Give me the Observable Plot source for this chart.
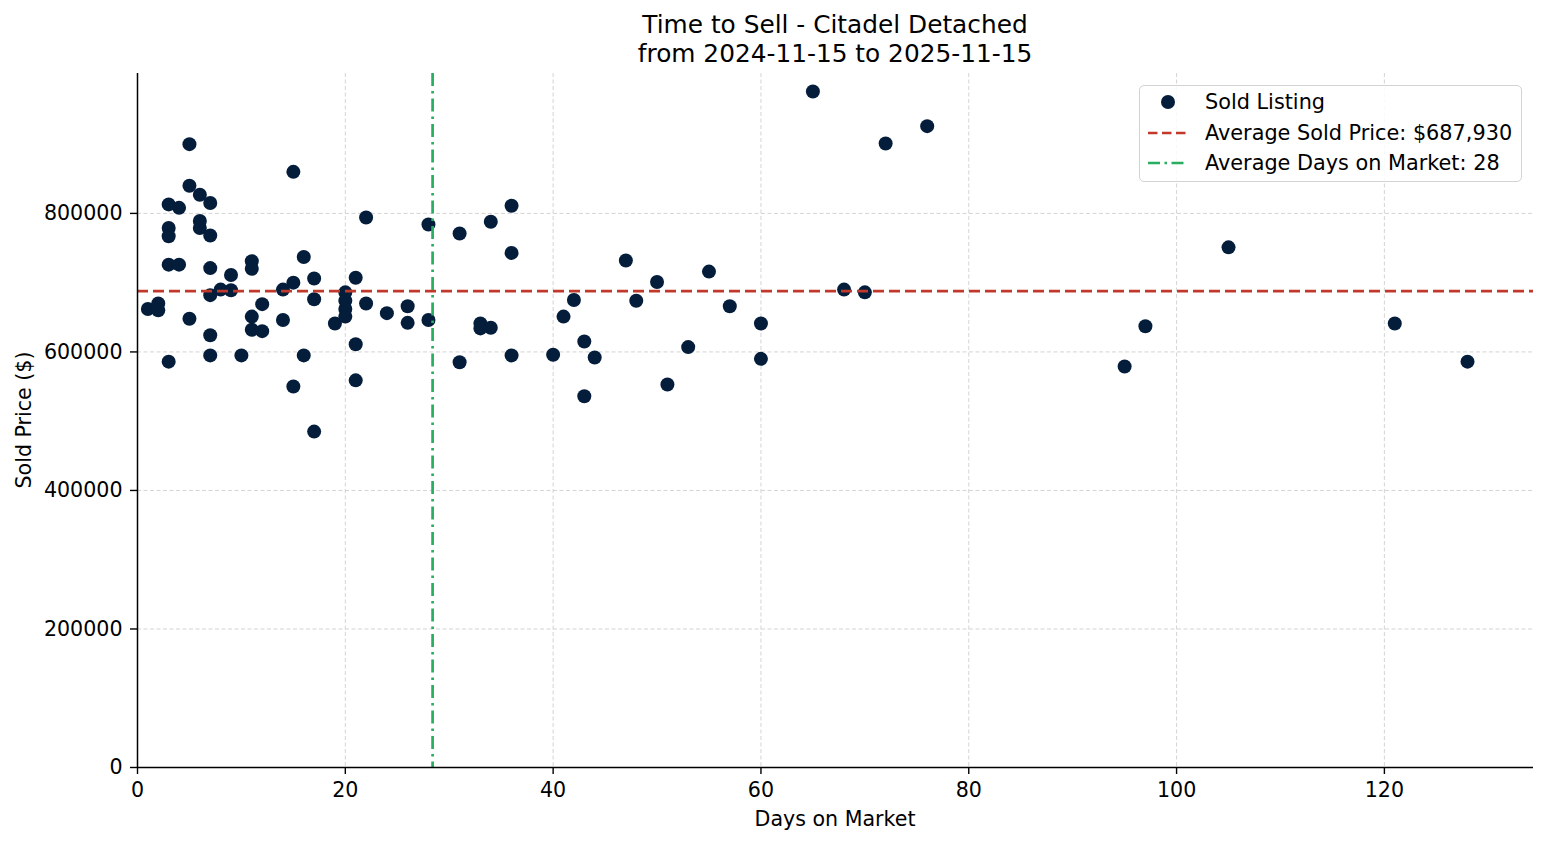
<!DOCTYPE html>
<html><head><meta charset="utf-8">
<script src="https://cdn.jsdelivr.net/npm/d3@7"></script>
<script src="https://cdn.jsdelivr.net/npm/@observablehq/plot@0.6"></script>
<style>
body{margin:0;background:#fff;font-family:"DejaVu Sans",sans-serif;color:#000;}
#wrap{position:relative;width:1547px;height:845px;overflow:hidden;}
#wrap svg{position:absolute;left:0;top:0;}
.title{position:absolute;left:137px;width:1396px;text-align:center;font-size:24.8px;line-height:29px;white-space:nowrap;}
.xlabel{position:absolute;left:137px;width:1396px;top:805px;text-align:center;font-size:20.6px;line-height:28px;}
.ylabel{position:absolute;left:24px;top:420px;font-size:20.6px;line-height:28px;white-space:nowrap;transform:translate(-50%,-50%) rotate(-90deg);}
#legend{position:absolute;left:1139px;top:85px;width:383px;height:97px;border:1.5px solid #d3d3d3;border-radius:5px;background:rgba(255,255,255,0.85);box-sizing:border-box;}
.lrow{position:absolute;left:0;height:30px;width:100%;}
.lrow svg{position:absolute;left:6px;top:0;}
.lrow span{position:absolute;left:65px;top:0;line-height:30px;font-size:20.8px;white-space:nowrap;}
</style></head><body>
<div id="wrap"></div>
<script>
// ---- data ----
const days = [1, 2, 2, 3, 3, 3, 3, 3, 4, 4, 5, 5, 5, 6, 6, 6, 7, 7, 7, 7, 7, 7, 8, 9, 9, 10,
  11, 11, 11, 11, 12, 12, 14, 14, 15, 15, 15, 16, 16, 17, 17, 17, 19, 20, 20, 20, 20,
  21, 21, 21, 22, 22, 24, 26, 26, 28, 28, 31, 31, 33, 33, 34, 34, 36, 36, 36,
  40, 41, 42, 43, 43, 44, 47, 48, 50, 51, 53, 55, 57, 60, 60,
  65, 68, 70, 72, 76, 95, 97, 105, 121, 128];
const prices = [662000, 670000, 660000, 813000, 779000, 767000, 726000, 586000, 808000, 726000,
  900000, 840000, 648000, 827000, 789000, 779000, 815000, 768000, 721000, 682000, 624000, 595000,
  690000, 711000, 689000, 595000,
  731000, 720000, 651000, 632000, 669000, 630000, 690000, 646000, 860000, 700000, 550000,
  737000, 595000, 706000, 676000, 485000, 641000, 686000, 674000, 662000, 651000,
  707000, 611000, 559000, 794000, 670000, 656000, 666000, 642000, 784000, 646000,
  771000, 585000, 641000, 634000, 788000, 635000, 811000, 743000, 595000,
  596000, 651000, 675000, 615000, 536000, 592000, 732000, 674000, 701000, 553000,
  607000, 716000, 666000, 641000, 590000,
  976000, 690000, 686000, 901000, 926000, 579000, 637000, 751000, 641000, 586000];
const avgPrice = 687930;
const avgDays = 28.4;
const xTicks = [0, 20, 40, 60, 80, 100, 120];
const yTicks = [0, 200000, 400000, 600000, 800000];
const xDomain = [0, 134.35];
const yDomain = [0, 1002000];
const titleLines = ["Time to Sell - Citadel Detached", "from 2024-11-15 to 2025-11-15"];
const xLabel = "Days on Market";
const yLabel = "Sold Price ($)";

const data = days.map((d, i) => ({days: d, price: prices[i]}));
const navy = "#031d3b", red = "#c0392b", green = "#27ae60";

const chart = Plot.plot({
  width: 1547, height: 845,
  marginTop: 73, marginLeft: 137, marginRight: 14, marginBottom: 78,
  style: {fontFamily: "DejaVu Sans", fontSize: "20.6px", color: "#000", background: "transparent", overflow: "visible"},
  x: {domain: xDomain},
  y: {domain: yDomain},
  marks: [
    Plot.gridX(xTicks, {stroke: "#cfcfcf", strokeOpacity: 1, strokeWidth: 0.9, strokeDasharray: "4,2.5"}),
    Plot.gridY(yTicks, {stroke: "#cfcfcf", strokeOpacity: 1, strokeWidth: 0.9, strokeDasharray: "4,2.5"}),
    Plot.axisX(xTicks, {tickSize: 7, tickPadding: 8, label: null, stroke: "#000", strokeWidth: 1.4, tickFormat: d3.format("d")}),
    Plot.axisY(yTicks, {tickSize: 7, tickPadding: 8, label: null, stroke: "#000", strokeWidth: 1.4, tickFormat: d3.format("d")}),
    Plot.dot(data, {x: "days", y: "price", r: 7, fill: navy, stroke: null}),
    Plot.ruleY([avgPrice], {stroke: red, strokeWidth: 2.7, strokeDasharray: "11,5"}),
    Plot.ruleX([avgDays], {stroke: green, strokeWidth: 2.7, strokeDasharray: "13,5,2.5,5"}),
    Plot.ruleX([0], {stroke: "#000", strokeWidth: 1.5}),
    Plot.ruleY([0], {stroke: "#000", strokeWidth: 1.5})
  ]
});

const wrap = document.getElementById("wrap");
wrap.appendChild(chart);

titleLines.forEach((t, i) => {
  const d = document.createElement("div");
  d.className = "title";
  d.style.top = (10 + i * 29) + "px";
  d.textContent = t;
  wrap.appendChild(d);
});
const xl = document.createElement("div"); xl.className = "xlabel"; xl.textContent = xLabel; wrap.appendChild(xl);
const yl = document.createElement("div"); yl.className = "ylabel"; yl.textContent = yLabel; wrap.appendChild(yl);

// legend
const legend = document.createElement("div");
legend.id = "legend";
const items = [
  {label: "Sold Listing", sym: `<circle cx="28" cy="15" r="7" fill="${navy}"/>`},
  {label: `Average Sold Price: $${d3.format(",")(avgPrice)}`, sym: `<line x1="8" x2="48" y1="15" y2="15" stroke="${red}" stroke-width="2.7" stroke-dasharray="9.5,4.5"/>`},
  {label: `Average Days on Market: ${Math.round(avgDays)}`, sym: `<line x1="8" x2="48" y1="15" y2="15" stroke="${green}" stroke-width="2.7" stroke-dasharray="12,4.5,2.5,4.5"/>`}
];
items.forEach((it, i) => {
  const row = document.createElement("div");
  row.className = "lrow";
  row.style.top = (1 + i * 30.5) + "px";
  row.innerHTML = `<svg width="54" height="30">${it.sym}</svg><span>${it.label}</span>`;
  legend.appendChild(row);
});
wrap.appendChild(legend);
</script>
</body></html>
